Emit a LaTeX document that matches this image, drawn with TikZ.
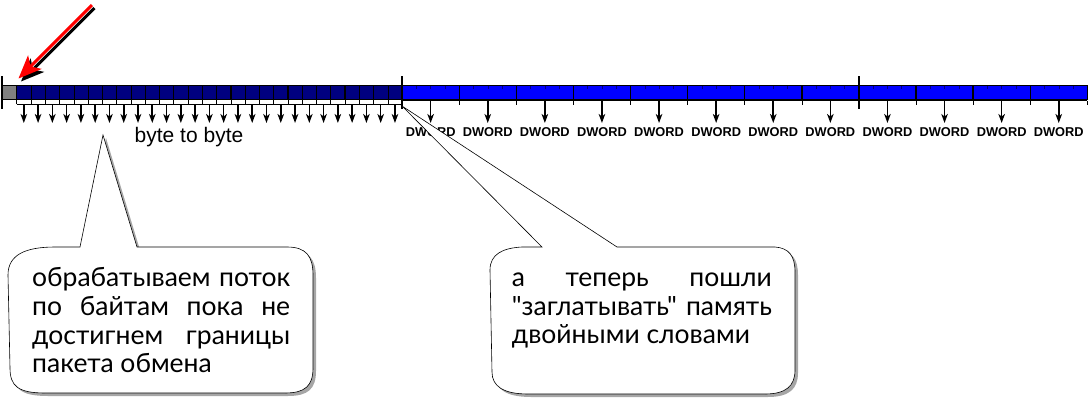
\documentclass[tikz,border=0pt]{standalone}
\usepackage{fontspec}
\setmainfont{Liberation Sans}
\newfontfamily\gothic{Lato}
\usetikzlibrary{arrows.meta, % for the fat arrow tips
                shadows,     % for the bubble shadows
                calc,
                positioning}
\definecolor{navy}{HTML}{000080}
\definecolor{pureblue}{HTML}{0000FF}

\begin{document}
\begin{tikzpicture}[x=1pt, y=-1pt,
                    ByteLine/.style={line width=0.5pt},
                    dwline/.style={line width=1.4pt},
                    bound/.style={line width=2pt},
                    bytearrow/.style={-{Stealth[length=9pt, width=6.5pt, inset=2.5pt]}, line width=1.6pt},
                    dwlabel/.style={font=\bfseries\fontsize{12.8}{14}\selectfont, inner sep=0pt},
                    redarrow/.style={line width=3pt, -{Stealth[length=23pt, width=19pt, inset=6pt]}},
                    Bubble/.style={draw=black, line width=0.6pt, fill=white,
                                   drop shadow={shadow xshift=3pt, shadow yshift=-3pt, fill=gray!70, opacity=1}},
                    bubbletext/.style={font=\gothic\fontsize{26.5}{30}\selectfont, inner sep=0pt, anchor=base west}
                    ]
    \useasboundingbox (0,0) rectangle (1090,407);
    \def\xo{2.4}
    \def\bw{14.275}

    % BAR %
    \fill[gray] (\xo,85) rectangle ({\xo+\bw},99);
    \fill[navy] ({\xo+\bw},85) rectangle ({\xo+28*\bw},99);
    \fill[pureblue] ({\xo+28*\bw},85) rectangle ({\xo+76*\bw},99);

    \foreach \b in {1,...,27}
    \draw[ByteLine] ({\xo+\b*\bw},85) -- ++(0,14);
    \foreach \b in {29,...,75}
    \draw[ByteLine, navy] ({\xo+\b*\bw},85) -- ++(0,4);
    \foreach \d in {1,...,18}
    \draw[dwline] ({\xo+4*\d*\bw},85) -- ++(0,14);

    \draw[line width=0.6pt] (\xo,85) rectangle ({\xo+76*\bw},99);

    % BYTE TO BYTE %
    \draw[ByteLine] ({\xo+\bw},104) -- ({\xo+28*\bw},104);
    \foreach \b in {1,...,28}
    \draw[ByteLine] ({\xo+\b*\bw},104) -- ++(0,-4);
    \foreach \b in {1,...,27}
    \draw[bytearrow] ({\xo+(\b+0.5)*\bw},104) -- ++(0,19);

    \node[font=\fontsize{21}{24}\selectfont, inner sep=0pt] (bytes) at (189,137) {byte to byte};

    % DWORDS %
    \draw[ByteLine] ({\xo+28*\bw},100.5) -- ({\xo+76*\bw},100.5);
    \foreach \d in {7,...,19}
    \draw[ByteLine] ({\xo+4*\d*\bw},100.5) -- ++(0,4);
    \foreach \d in {7,...,18}{
    \draw[bytearrow] ({\xo+(4*\d+2)*\bw},101) -- ++(0,22);
    \node[dwlabel] (dw\d) at ({\xo+(4*\d+2)*\bw},132) {DWORD};
    }

    \foreach \d in {0,7,15}
    \draw[bound] ({\xo+4*\d*\bw},76) -- ++(0,33);

    % RED ARROW %
    \coordinate (start) at (92,5);
    \coordinate (first) at (18.5,78.5);
    \draw[redarrow, black] ($(start)+(2.5,3)$) -- ($(first)+(2.5,3)$);
    \draw[redarrow, red] (start) -- (first);

    % BUBBLES %
    \coordinate (tipA) at (103,135);
    \coordinate (tipB) at (402,106);

    \draw[Bubble] (8,275) .. controls (8,255) and (25,247) .. (55,247) -- (80,247) -- (tipA)
      -- (137,247) -- (287,247) .. controls (306,247) and (313,256) .. (313,275)
      -- (313,368) .. controls (313,386) and (305,393) .. (285,393)
      -- (45,393) .. controls (18,393) and (10,386) .. (10,368) -- cycle;

    \draw[Bubble] (490,270) .. controls (490,254) and (503,248) .. (522,247) -- (542,247) -- (tipB)
      -- (617,247) -- (775,247) .. controls (789,248) and (795,256) .. (795,272)
      -- (795,370) .. controls (795,386) and (786,394) .. (765,394)
      -- (528,394) .. controls (503,394) and (492,386) .. (492,372) -- cycle;

    \node[bubbletext] (a1) at (32,286.7) {\makebox[258pt][s]{обрабатываем поток}};
    \node[bubbletext] (a2) at (32,315) {\makebox[258pt][s]{по байтам пока не}};
    \node[bubbletext] (a3) at (32,344) {\makebox[258pt][s]{достигнем границы}};
    \node[bubbletext] (a4) at (32,372.7) {пакета обмена};

    \node[bubbletext] (b1) at (511.7,286.7) {\makebox[260pt][s]{а теперь пошли}};
    \node[bubbletext] (b2) at (511.7,315) {\makebox[260pt][s]{"заглатывать" память}};
    \node[bubbletext] (b3) at (511.7,343) {двойными словами};
\end{tikzpicture}
\end{document}
